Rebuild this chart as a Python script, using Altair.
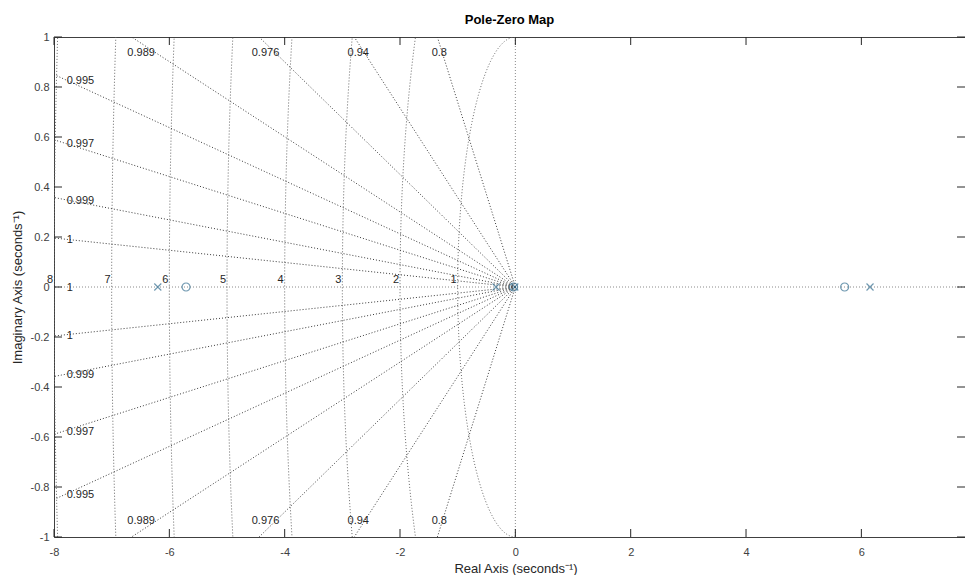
import math
import altair as alt
import pandas as pd

# ---- data ----
POLES = [-6.20, -0.335, -0.01, 6.15]
ZEROS = [-5.71, -0.03, 5.71]
ZETA = [0.9997, 0.999, 0.9973, 0.9944, 0.9889, 0.9756, 0.9415, 0.804]
ZETA_LABELS = ["1", "0.999", "0.997", "0.995", "0.989", "0.976", "0.94", "0.8"]
WN = [1, 2, 3, 4, 5, 6, 7, 8]
WN_LABELS = ["1", "2", "3", "4", "5", "6", "7", "8"]
X_TICKS = [-8, -6, -4, -2, 0, 2, 4, 6]
Y_TICKS = [-1, -0.8, -0.6, -0.4, -0.2, 0, 0.2, 0.4, 0.6, 0.8, 1]
X_MAX = 7.797

W, H = 911, 500
FONT = "Liberation Sans"
MARK_COLOR = "#356f91"

xs = alt.Scale(domain=[-8, X_MAX], nice=False, zero=False)
ys = alt.Scale(domain=[-1, 1], nice=False, zero=False)

xaxis = alt.Axis(values=X_TICKS, title="Real Axis (seconds⁻¹)", grid=False, domain=False,
                 ticks=False, labelExpr="toString(datum.value)", labelPadding=9,
                 labelFontSize=11, labelColor="#404040", labelFlush=False,
                 titleFontSize=13, titleFontWeight="normal", titleColor="#262626",
                 titleX=461.5, titleY=31, titleBaseline="middle")
yaxis = alt.Axis(values=Y_TICKS, title="Imaginary Axis (seconds⁻¹)", grid=False, domain=False,
                 ticks=False, labelExpr="toString(datum.value)", labelPadding=5,
                 labelFontSize=11, labelColor="#404040", labelFlush=False,
                 titleFontSize=13, titleFontWeight="normal", titleColor="#262626",
                 titleX=-37, titleY=H / 2, titleBaseline="middle")


def X(f):
    return alt.X(f, type="quantitative", scale=xs, axis=xaxis)


def Y(f):
    return alt.Y(f, type="quantitative", scale=ys, axis=yaxis)


# ---- damping rays ----
ray_rows = []
for z in ZETA:
    for sgn in (1, -1):
        ray_rows.append({"zeta": z, "sgn": sgn})
rays = alt.Chart(pd.DataFrame(ray_rows)).transform_calculate(
    x0="0", y0="0",
    xe="-20 * datum.zeta",
    ye="datum.sgn * 20 * sqrt(1 - datum.zeta * datum.zeta)",
).mark_rule(clip=True, color="#3a3a3a", strokeDash=[1, 2], strokeWidth=1).encode(
    x=X("x0"), y=Y("y0"), x2="xe:Q", y2="ye:Q"
)

# ---- natural-frequency semicircles ----
circles = alt.Chart(pd.DataFrame({"wn": WN})).transform_calculate(
    th="sequence(0, 180.25, 0.5)"
).transform_flatten(["th"]).transform_calculate(
    x="-datum.wn * sin(datum.th * PI / 180)",
    y="datum.wn * cos(datum.th * PI / 180)",
).mark_line(clip=True, color="#666666", strokeDash=[1, 2], strokeWidth=1).encode(
    x=X("x"), y=Y("y"), detail="wn:N", order="th:Q"
)

# ---- real / imaginary axis dotted lines ----
real_line = alt.Chart(pd.DataFrame({"v": [0]})).mark_rule(
    color="#8a8a8a", strokeDash=[1, 2]).encode(y=Y("v"))
imag_line = alt.Chart(pd.DataFrame({"v": [0]})).mark_rule(
    color="#8a8a8a", strokeDash=[1, 2]).encode(x=X("v"))

# ---- damping labels ----
left_rows, top_rows = [], []
left_rows.append({"x": -7.78, "y": 0.0, "t": "1"})
for z, lab in zip(ZETA, ZETA_LABELS):
    s = math.sqrt(1 - z * z) / z
    for sgn in (1, -1):
        if 8 * s < 1:
            left_rows.append({"x": -7.78, "y": sgn * 7.8 * s, "t": lab})
        else:
            top_rows.append({"x": -0.975 / s, "y": sgn * 0.936, "t": lab})

zl_left = alt.Chart(pd.DataFrame(left_rows)).mark_text(
    align="left", baseline="middle", dy=1, font=FONT, fontSize=11, color="#262626"
).encode(x=X("x"), y=Y("y"), text="t:N")
zl_top = alt.Chart(pd.DataFrame(top_rows)).mark_text(
    align="center", baseline="middle", font=FONT, fontSize=11, color="#262626"
).encode(x=X("x"), y=Y("y"), text="t:N")

# ---- wn labels ----
wn_df = pd.DataFrame({"x": [-w for w in WN], "y": [0] * len(WN), "t": WN_LABELS})
wl = alt.Chart(wn_df).mark_text(
    align="right", baseline="alphabetic", dx=-1, dy=-4, font=FONT, fontSize=11,
    color="#262626", clip=False
).encode(x=X("x"), y=Y("y"), text="t:N")

# ---- poles and zeros ----
poles = alt.Chart(pd.DataFrame({"x": POLES, "y": [0] * len(POLES)})).mark_point(
    shape="M-1,-1L1,1M-1,1L1,-1", filled=False, size=49, strokeWidth=1.2, color=MARK_COLOR
).encode(x=X("x"), y=Y("y"))
zeros = alt.Chart(pd.DataFrame({"x": ZEROS, "y": [0] * len(ZEROS)})).mark_point(
    shape="circle", filled=False, size=64, strokeWidth=1.2, color=MARK_COLOR
).encode(x=X("x"), y=Y("y"))

# ---- inward ticks (MATLAB style box) ----
TICK = "#262626"
xt = pd.DataFrame({"v": X_TICKS})
yt = pd.DataFrame({"v": Y_TICKS})
t_bottom = alt.Chart(xt).mark_rule(color=TICK).encode(
    x=X("v"), y=alt.value(H), y2=alt.value(H - 8))
t_top = alt.Chart(xt).mark_rule(color=TICK).encode(
    x=X("v"), y=alt.value(0), y2=alt.value(8))
t_left = alt.Chart(yt).mark_rule(color=TICK).encode(
    y=Y("v"), x=alt.value(0), x2=alt.value(8))
t_right = alt.Chart(yt).mark_rule(color=TICK).encode(
    y=Y("v"), x=alt.value(W), x2=alt.value(W - 8))

chart = alt.layer(
    real_line, imag_line, circles, rays, zl_left, zl_top, wl, poles, zeros,
    t_bottom, t_top, t_left, t_right
).properties(
    width=W, height=H,
    autosize=alt.AutoSizeParams(type="none"),
    padding={"left": 46, "top": 29, "right": 0, "bottom": 38},
    title=alt.TitleParams("Pole-Zero Map", fontSize=13, fontWeight="bold", anchor="middle",
                          font=FONT, color="#000000", offset=4),
).configure_view(stroke="#404040", strokeWidth=1).configure_axis(
    labelFont=FONT, titleFont=FONT
)

chart.save("out.html", embed_options={"renderer": "svg", "actions": False})
